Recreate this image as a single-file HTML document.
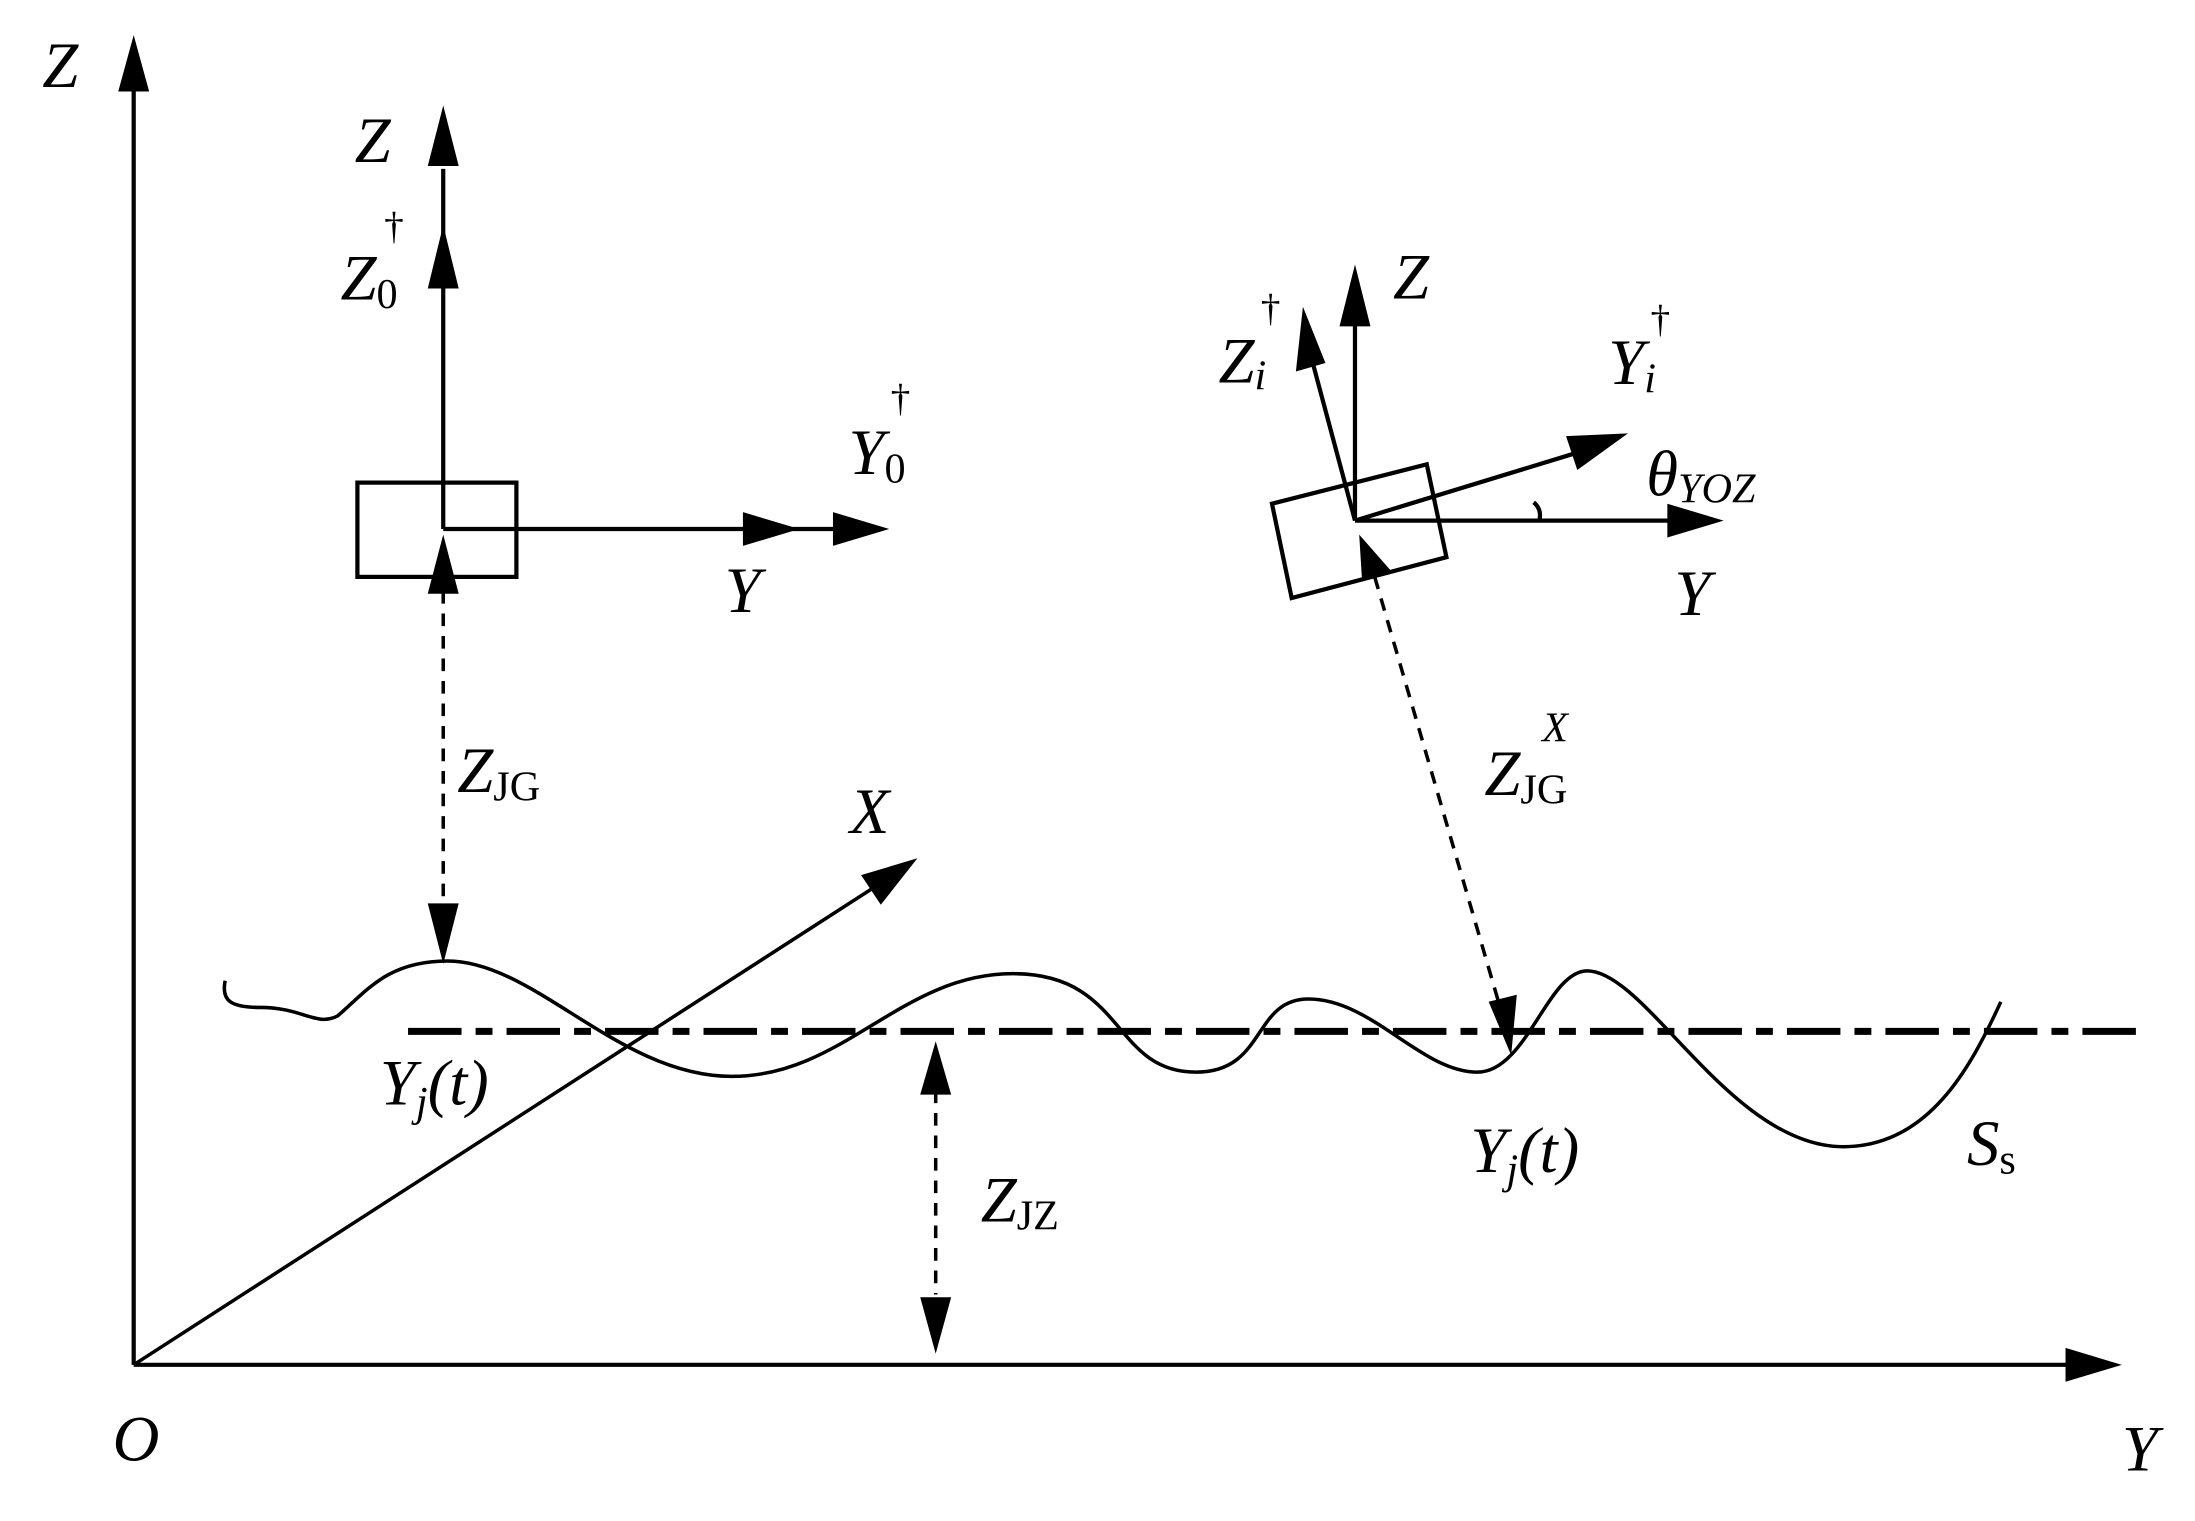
<!DOCTYPE html>
<html><head><meta charset="utf-8"><style>html,body{margin:0;padding:0;background:#fff}svg{display:block}text{font-family:"Liberation Serif",serif;font-style:italic;fill:#000}.r{font-style:normal}</style></head><body>
<svg width="2195" height="1521" viewBox="0 0 1560 1081" xmlns="http://www.w3.org/2000/svg">
<g stroke="#000" fill="none" stroke-width="3">
<line x1="95" y1="970" x2="95" y2="60"/>
<line x1="95" y1="970" x2="1475" y2="970"/>
<line x1="95" y1="970" x2="630" y2="625" stroke-width="2.5"/>
<line x1="315" y1="376" x2="315" y2="120"/>
<line x1="315" y1="376" x2="595" y2="376"/>
<rect x="254" y="343" width="113" height="67"/>
<line x1="315" y1="420" x2="315" y2="645" stroke-dasharray="9,7" stroke-width="2.5"/>
<line x1="963" y1="370" x2="963" y2="230"/>
<line x1="963" y1="370" x2="933" y2="258"/>
<line x1="963" y1="370" x2="1190" y2="370"/>
<line x1="963" y1="370" x2="1120" y2="322"/>
<polygon points="904,358 1014,330 1028,396 918,425"/>
<path d="M1090,357 Q1096,362 1094,370"/>
<line x1="977" y1="410" x2="1065" y2="712" stroke-dasharray="9,7" stroke-width="2.5"/>
<line x1="665" y1="775" x2="665" y2="920" stroke-dasharray="9,7" stroke-width="2.5"/>
<line x1="290" y1="733" x2="1525" y2="733" stroke-dasharray="38,10,12,10" stroke-width="5"/>
<path d="M160,697 C157,712 165,716 185,716 C215,716 225,730 240,722 C260,705 275,683 318,683 C380,683 440,765 520,765 C600,765 640,692 720,692 C800,692 790,762 850,762 C900,762 890,710 930,710 C975,710 1010,762 1050,762 C1085,762 1100,690 1128,690 C1170,690 1230,815 1310,815 C1370,815 1400,760 1422,712" stroke-width="2.5"/>
</g>
<g fill="#000">
<polygon points="95,25 84,65 106,65"/>
<polygon points="1508,970 1468,958 1468,982"/>
<polygon points="652,610 612,622 626,643"/>
<polygon points="315,75 304,118 326,118"/>
<polygon points="315,160 304,205 326,205"/>
<polygon points="568,376 528,364 528,388"/>
<polygon points="632,376 592,364 592,388"/>
<polygon points="315,380 304,422 326,422"/>
<polygon points="315,685 304,642 326,642"/>
<polygon points="963,188 952,232 974,232"/>
<polygon points="926,218 921,264 942,258"/>
<polygon points="1225,370 1185,358 1185,382"/>
<polygon points="1157,308 1113,310 1121,334"/>
<polygon points="966,380 968,412 988,405"/>
<polygon points="1074,750 1058,712 1078,707"/>
<polygon points="665,740 654,778 676,778"/>
<polygon points="665,962 654,922 676,922"/>
</g>
<g font-size="46">
<text x="30" y="62">Z</text>
<text x="80" y="1038">O</text>
<text x="1508" y="1045">Y</text>
<text x="604" y="592">X</text>
<text x="252" y="115">Z</text>
<text x="242" y="213">Z<tspan class="r" font-size="30" dy="6">0</tspan></text>
<text x="273" y="170" class="r" font-size="28">†</text>
<text x="515" y="435">Y</text>
<text x="603" y="337">Y<tspan class="r" font-size="30" dy="6">0</tspan></text>
<text x="633" y="292" class="r" font-size="28">†</text>
<text x="325" y="563">Z<tspan class="r" font-size="30" dy="6">JG</tspan></text>
<text x="990" y="212">Z</text>
<text x="866" y="272">Z<tspan font-size="30" dy="5">i</tspan></text>
<text x="896" y="228" class="r" font-size="28">†</text>
<text x="1143" y="273">Y<tspan font-size="30" dy="6">i</tspan></text>
<text x="1173" y="236" class="r" font-size="28">†</text>
<text x="1170" y="352">θ<tspan font-size="30" dy="5">YOZ</tspan></text>
<text x="1190" y="437">Y</text>
<text x="1055" y="565">Z<tspan class="r" font-size="30" dy="6">JG</tspan></text>
<text x="1096" y="527" font-size="30">X</text>
<text x="270" y="785">Y<tspan font-size="30" dy="8">j</tspan><tspan dy="-8">(t)</tspan></text>
<text x="1045" y="833">Y<tspan font-size="30" dy="8">j</tspan><tspan dy="-8">(t)</tspan></text>
<text x="1398" y="828">S<tspan class="r" font-size="30" dy="6">s</tspan></text>
<text x="697" y="868">Z<tspan class="r" font-size="30" dy="6">JZ</tspan></text>
</g>
</svg>
</body></html>
